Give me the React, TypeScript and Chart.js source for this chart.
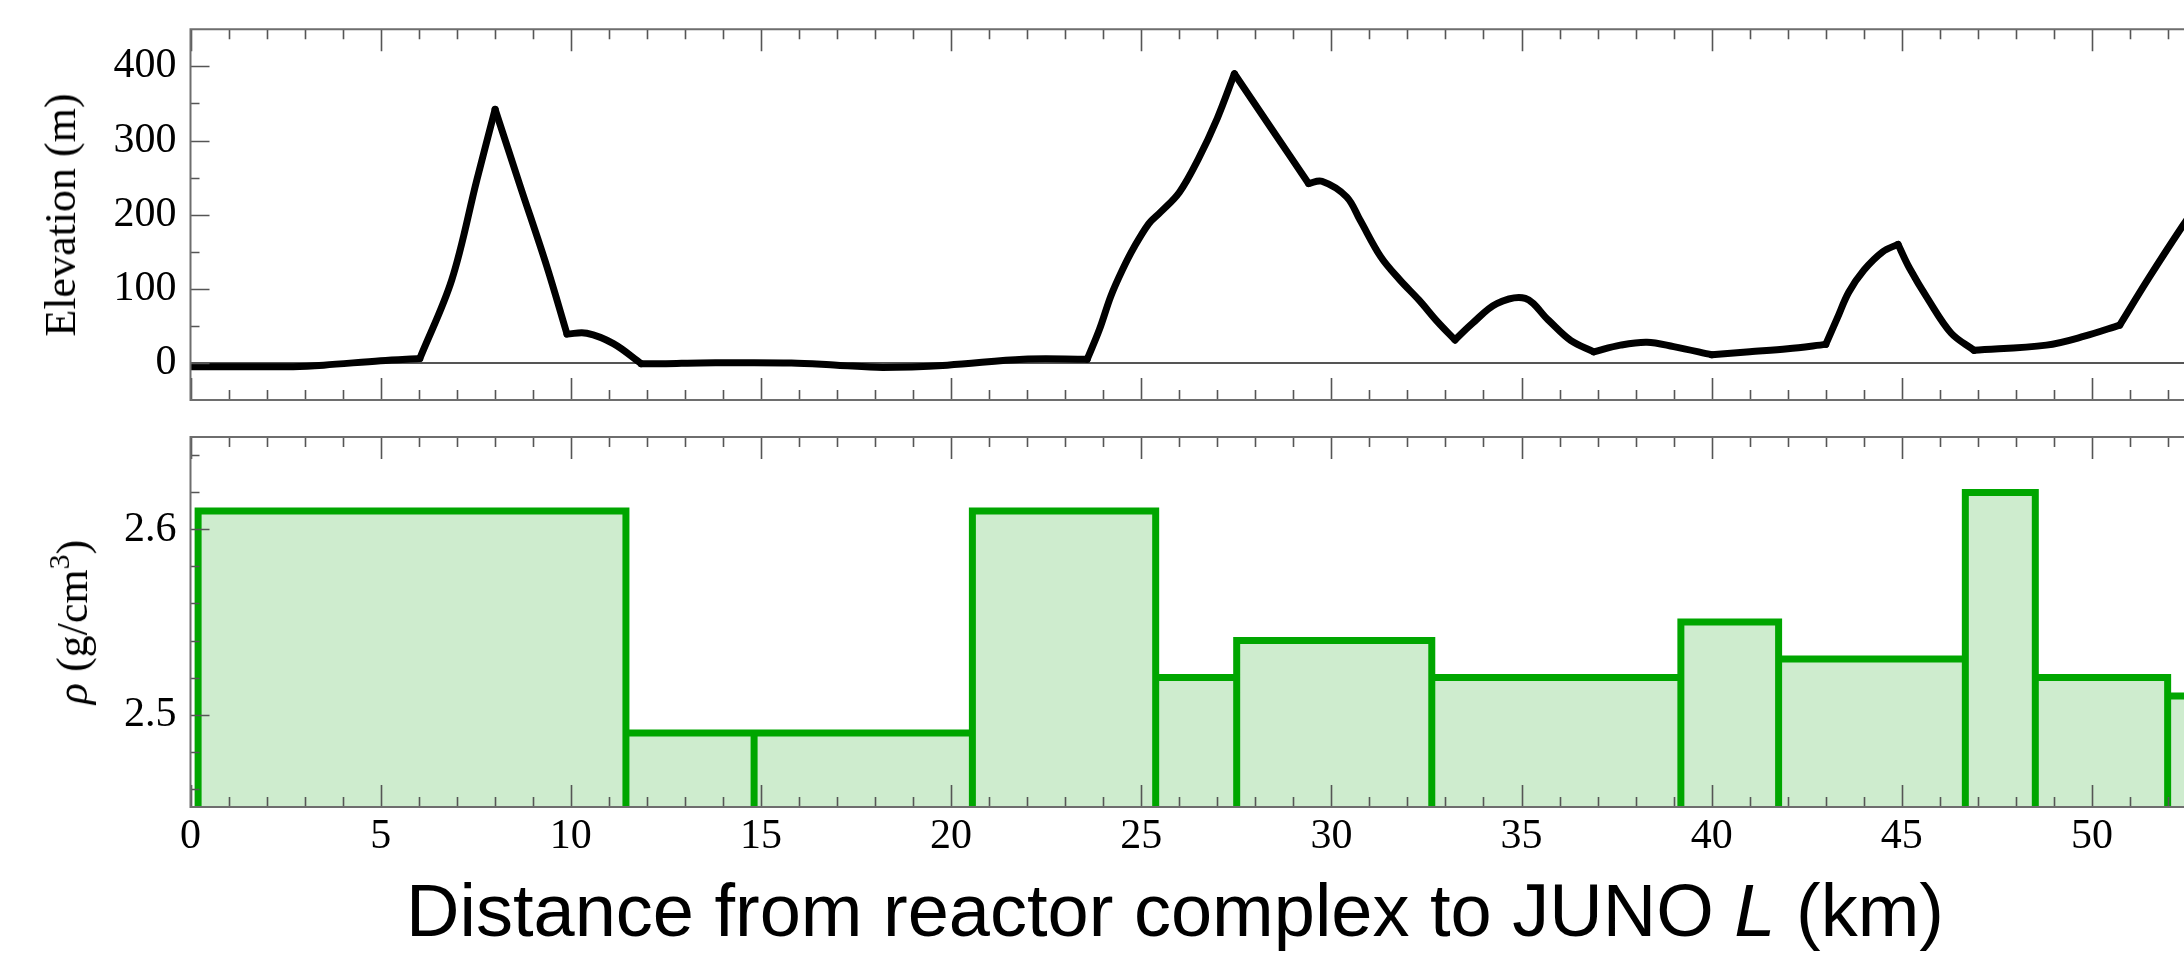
import React, { useEffect, useRef } from 'react';
import { Chart, registerables } from 'chart.js';

Chart.register(...registerables);

// ---------- data ----------
const X_MAX = 52.42; // visible end of the (cropped) distance axis, km
const X_TICKS = [0, 5, 10, 15, 20, 25, 30, 35, 40, 45, 50];

const ELEV_KM = [
  0, 1.5, 2.7, 3.5, 5.0, 6.03, 6.87, 7.53, 8.01, 8.66, 9.37, 9.9,
  10.42, 11.12, 11.85, 12.5, 13.4, 15.8, 17.0, 18.2, 19.9, 21.9, 23.58,
  23.9, 24.2, 24.5, 24.8, 25.2, 25.5, 26.0, 26.5, 27.0, 27.45, 28.4, 29.4,
  29.75, 30.4, 30.75, 31.3, 31.8, 32.3, 32.8, 33.25, 33.7, 34.35, 35.1, 35.7,
  36.3, 36.9, 37.6, 38.3, 39.0, 40.0, 41.0, 42.0, 43.0, 43.3, 43.6, 44.0, 44.5,
  44.9, 45.2, 45.7, 46.3, 46.9, 48.8, 49.8, 50.73, 51.5, 52.4, 53.0,
];
const ELEV_M = [
  -5, -5, -5, -3, 3, 6, 112, 247, 342, 240, 130, 39,
  40, 26, -1, -1, 0, 0, -3, -6, -3, 5, 5,
  45, 90, 125, 155, 188, 203, 230, 275, 330, 390, 318, 242,
  245, 224, 193, 143, 112, 85, 55, 31, 53, 80, 87, 58,
  30, 15, 24, 28, 22, 11, 15, 19, 25, 60, 95, 125, 150,
  160, 128, 85, 40, 17, 24, 36, 51, 115, 186, 230,
];
// distances (km) where the profile has a sharp corner
const ELEV_KINKS = [6.03, 8.01, 9.9, 11.85, 23.58, 27.45, 29.4, 33.25, 36.9, 40.0, 43.0, 44.9, 46.9, 50.73];
const ELEV_TICKS = [0, 100, 200, 300, 400];

const RHO_EDGES = [0.2, 11.45, 14.82, 20.56, 25.38, 27.51, 32.64, 39.19, 41.76, 46.67, 48.51, 51.99, 54.5];
const RHO_VALUES = [2.61, 2.49, 2.49, 2.61, 2.52, 2.54, 2.52, 2.55, 2.53, 2.62, 2.52, 2.51];
const RHO_TICKS = [2.5, 2.6];
const RHO_BASE = 2.4; // bars extend below the visible axis

// ---------- styling ----------
const SERIF = '"Liberation Serif", "Times New Roman", serif';
const SANS = '"Liberation Sans", Arial, sans-serif';
const TICK_FONT = { family: SERIF, size: 42 };
const AXIS_LEFT = 190.5;

type FrameCfg = { xMinor: number; xMajor: number; yMinor: number; yMajor: number; zeroLine?: number };

function makeFramePlugin(cfg: FrameCfg) {
  const isMajor = (v: number, step: number) => Math.abs(v / step - Math.round(v / step)) < 1e-6;
  return {
    id: 'frame',
    beforeDatasetsDraw(chart: any) {
      if (cfg.zeroLine === undefined) return;
      const { ctx, chartArea: a, scales } = chart;
      const py = scales.y.getPixelForValue(cfg.zeroLine);
      ctx.save();
      ctx.strokeStyle = '#555';
      ctx.lineWidth = 2;
      ctx.beginPath();
      ctx.moveTo(a.left, py);
      ctx.lineTo(a.right, py);
      ctx.stroke();
      ctx.restore();
    },
    afterDatasetsDraw(chart: any) {
      const { ctx, chartArea: a, scales } = chart;
      const xs = scales.x;
      const ys = scales.y;
      ctx.save();
      ctx.strokeStyle = '#555';
      ctx.lineWidth = 1.6;
      ctx.beginPath();
      const n0 = Math.ceil(xs.min / cfg.xMinor);
      const n1 = Math.floor(xs.max / cfg.xMinor);
      for (let n = n0; n <= n1; n++) {
        const v = n * cfg.xMinor;
        const px = Math.round(xs.getPixelForValue(v)) + 0.5;
        const len = isMajor(v, cfg.xMajor) ? 22 : 10;
        ctx.moveTo(px, a.top);
        ctx.lineTo(px, a.top + len);
        ctx.moveTo(px, a.bottom);
        ctx.lineTo(px, a.bottom - len);
      }
      const m0 = Math.ceil(ys.min / cfg.yMinor + 1e-9);
      const m1 = Math.floor(ys.max / cfg.yMinor - 1e-9);
      for (let m = m0; m <= m1; m++) {
        const v = m * cfg.yMinor;
        const py = Math.round(ys.getPixelForValue(v)) + 0.5;
        if (py <= a.top + 1 || py >= a.bottom - 1) continue;
        const len = isMajor(v, cfg.yMajor) ? 19 : 9;
        ctx.moveTo(a.left, py);
        ctx.lineTo(a.left + len, py);
      }
      ctx.stroke();
      ctx.strokeStyle = '#6e6e6e';
      ctx.lineWidth = 2;
      ctx.beginPath();
      ctx.moveTo(a.right + 5, a.top);
      ctx.lineTo(a.left, a.top);
      ctx.lineTo(a.left, a.bottom);
      ctx.lineTo(a.right + 5, a.bottom);
      ctx.stroke();
      ctx.restore();
    },
  };
}

const fixedTicks = (vals: number[]) => (scale: any) => {
  scale.ticks = vals.map((v) => ({ value: v }));
};
const fitY = (s: any) => {
  s.width = AXIS_LEFT;
  s.paddingTop = 0;
  s.paddingBottom = 0;
};
const fitX = (h: number) => (s: any) => {
  s.height = h;
  s.paddingLeft = 0;
  s.paddingRight = 0;
};

export default function App() {
  const topRef = useRef<HTMLCanvasElement>(null);
  const botRef = useRef<HTMLCanvasElement>(null);

  useEffect(() => {
    // split the profile into smooth pieces joined at the kinks
    const pieces: { x: number; y: number }[][] = [[]];
    ELEV_KM.forEach((x, i) => {
      const p = { x, y: ELEV_M[i] };
      pieces[pieces.length - 1].push(p);
      if (ELEV_KINKS.includes(x) && i < ELEV_KM.length - 1) pieces.push([p]);
    });
    const elevSets = pieces.map((d) => ({
      data: d,
      borderColor: '#000',
      borderWidth: 7,
      pointRadius: 0,
      tension: 0.35,
      fill: false,
      borderJoinStyle: 'round',
      borderCapStyle: 'round',
    }));

    const rhoData: { x: number; y: number }[] = [];
    RHO_VALUES.forEach((v, i) => {
      rhoData.push(
        { x: RHO_EDGES[i], y: RHO_BASE },
        { x: RHO_EDGES[i], y: v },
        { x: RHO_EDGES[i + 1], y: v },
        { x: RHO_EDGES[i + 1], y: RHO_BASE },
      );
    });

    const top = new Chart(topRef.current as HTMLCanvasElement, {
      type: 'line',
      data: { datasets: elevSets as any },
      options: {
        animation: false,
        responsive: false,
        layout: { padding: { top: 29.3, bottom: 10, left: 0, right: 0 } },
        plugins: { legend: { display: false }, tooltip: { enabled: false } },
        scales: {
          x: { type: 'linear', min: 0, max: X_MAX, display: false },
          y: {
            type: 'linear',
            min: -50,
            max: 450,
            afterFit: fitY,
            afterBuildTicks: fixedTicks(ELEV_TICKS),
            grid: { display: false, drawTicks: false },
            border: { display: false },
            ticks: { font: TICK_FONT, color: '#000', padding: 14 },
          },
        },
      } as any,
      plugins: [makeFramePlugin({ xMinor: 1, xMajor: 5, yMinor: 50, yMajor: 100, zeroLine: 0 })],
    });

    const bot = new Chart(botRef.current as HTMLCanvasElement, {
      type: 'line',
      data: {
        datasets: [
          {
            data: rhoData,
            borderColor: '#00a600',
            backgroundColor: 'rgb(206,236,206)',
            borderWidth: 7,
            pointRadius: 0,
            tension: 0,
            fill: 'start',
            borderJoinStyle: 'miter',
          } as any,
        ],
      },
      options: {
        animation: false,
        responsive: false,
        layout: { padding: { top: 17, bottom: 0, left: 0, right: 0 } },
        plugins: { legend: { display: false }, tooltip: { enabled: false } },
        scales: {
          x: {
            type: 'linear',
            min: 0,
            max: X_MAX,
            position: 'bottom',
            afterFit: fitX(148),
            afterBuildTicks: fixedTicks(X_TICKS),
            grid: { display: false, drawTicks: false },
            border: { display: false },
            ticks: { font: TICK_FONT, color: '#000', padding: 5, autoSkip: false, maxRotation: 0 },
          },
          y: {
            type: 'linear',
            min: 2.45,
            max: 2.65,
            afterFit: fitY,
            afterBuildTicks: fixedTicks(RHO_TICKS),
            grid: { display: false, drawTicks: false },
            border: { display: false },
            ticks: { font: TICK_FONT, color: '#000', padding: 14, callback: (v: any) => Number(v).toFixed(1) },
          },
        },
      } as any,
      plugins: [makeFramePlugin({ xMinor: 1, xMajor: 5, yMinor: 0.02, yMajor: 0.1 })],
    });

    return () => {
      top.destroy();
      bot.destroy();
    };
  }, []);

  const rotated = (cx: number, cy: number): React.CSSProperties => ({
    position: 'absolute',
    left: cx,
    top: cy,
    transform: 'translate(-50%, -50%) rotate(-90deg)',
    whiteSpace: 'nowrap',
    fontFamily: SERIF,
    fontSize: 44,
    lineHeight: 1,
    color: '#000',
  });

  return (
    <div
      style={{
        position: 'absolute',
        left: 0,
        top: 0,
        width: 2184,
        height: 955,
        overflow: 'hidden',
        background: '#fff',
      }}
    >
      <canvas
        ref={topRef}
        width={2184}
        height={410}
        style={{ position: 'absolute', left: 0, top: 0, width: 2184, height: 410 }}
      />
      <canvas
        ref={botRef}
        width={2184}
        height={535}
        style={{ position: 'absolute', left: 0, top: 420, width: 2184, height: 535 }}
      />
      <div style={rotated(61, 215)}>Elevation (m)</div>
      <div style={rotated(73, 622)}>
        <span style={{ fontStyle: 'italic' }}>ρ</span> (g/cm
        <sup style={{ fontSize: '0.68em', verticalAlign: '0.6em', lineHeight: 0 }}>3</sup>)
      </div>
      <div
        style={{
          position: 'absolute',
          left: 1175,
          top: 874,
          transform: 'translateX(-50%)',
          whiteSpace: 'nowrap',
          fontFamily: SANS,
          fontSize: 74,
          lineHeight: 1,
          color: '#000',
        }}
      >
        Distance from reactor complex to JUNO <span style={{ fontStyle: 'italic' }}>L</span> (km)
      </div>
    </div>
  );
}
